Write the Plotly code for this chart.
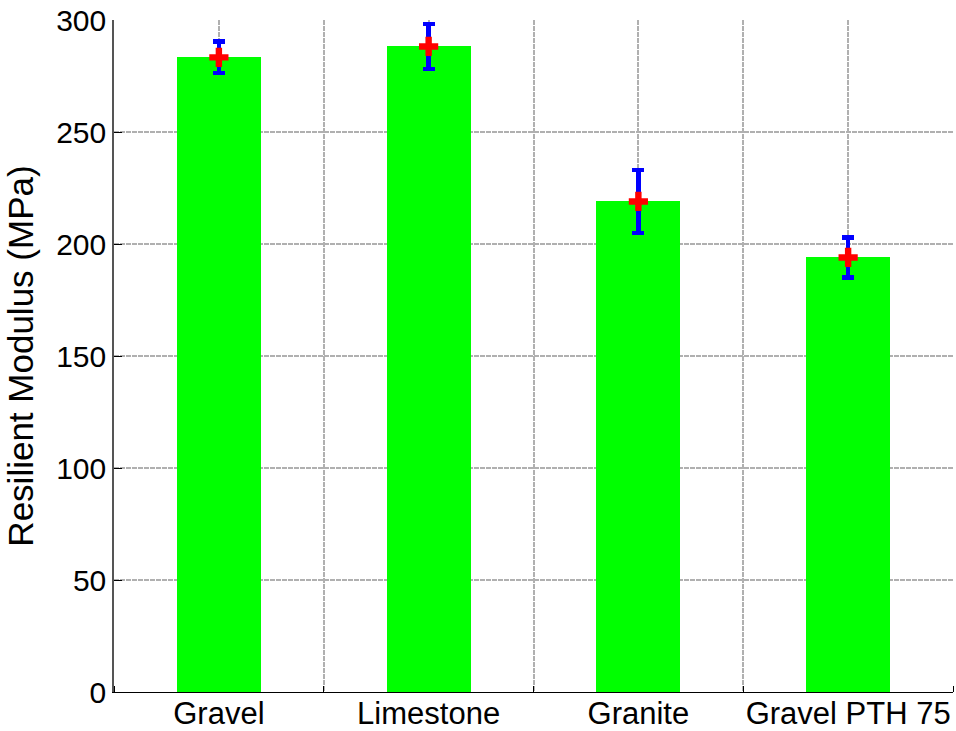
import plotly.graph_objects as go

# Aggregate types and their mean resilient modulus (MPa) with spread
categories = ["Gravel", "Limestone", "Granite", "Gravel PTH 75"]
modulus_mean = [283.3, 288.2, 219.0, 194.0]
modulus_err = [7.0, 10.0, 14.0, 9.0]
y_ticks = [0, 50, 100, 150, 200, 250, 300]

x_pos = list(range(1, len(categories) + 1))
between = [p - 0.5 for p in x_pos] + [x_pos[-1] + 0.5]

FONT = "Liberation Sans, Arial, sans-serif"
GRID = "#b0b0b0"
DASH = "5px,1px"

fig = go.Figure()

fig.add_trace(go.Bar(
    x=x_pos,
    y=modulus_mean,
    width=0.4,
    marker=dict(color="#00ff00", line=dict(width=0)),
    error_y=dict(type="data", array=modulus_err, visible=True,
                 color="#0000ff", thickness=4.5, width=6),
    showlegend=False,
))

fig.add_trace(go.Scatter(
    x=x_pos,
    y=modulus_mean,
    mode="markers",
    marker=dict(symbol="cross", size=16, color="#ff0000",
                line=dict(width=0)),
    showlegend=False,
))

fig.update_layout(
    width=956,
    height=731,
    margin=dict(l=114, r=3, t=20, b=39),
    paper_bgcolor="white",
    plot_bgcolor="white",
    font=dict(family=FONT, size=30, color="black"),
    bargap=0,
)

fig.update_xaxes(
    range=[0.5, len(categories) + 0.5],
    automargin=False,
    tickmode="array",
    tickvals=x_pos,
    ticktext=categories,
    ticks="",
    tickfont=dict(size=31),
    ticklabelstandoff=-6,
    showgrid=True,
    gridcolor=GRID,
    griddash=DASH,
    gridwidth=1.5,
    minor=dict(tickmode="array", tickvals=between, ticks="inside",
               ticklen=6, tickcolor="black", showgrid=True,
               gridcolor=GRID, griddash=DASH, gridwidth=1.5),
    showline=True,
    linecolor="black",
    linewidth=1,
    zeroline=False,
    fixedrange=True,
)

fig.update_yaxes(
    range=[0, 300],
    automargin=False,
    tickmode="array",
    tickvals=y_ticks,
    ticks="inside",
    ticklen=8,
    tickcolor="black",
    tickfont=dict(size=30),
    showgrid=True,
    gridcolor=GRID,
    griddash=DASH,
    gridwidth=1.5,
    showline=True,
    linecolor="#555555",
    linewidth=1.5,
    zeroline=False,
    title=dict(text="Resilient Modulus (MPa)", font=dict(size=35), standoff=12),
    fixedrange=True,
)

fig.write_html("out.html")
